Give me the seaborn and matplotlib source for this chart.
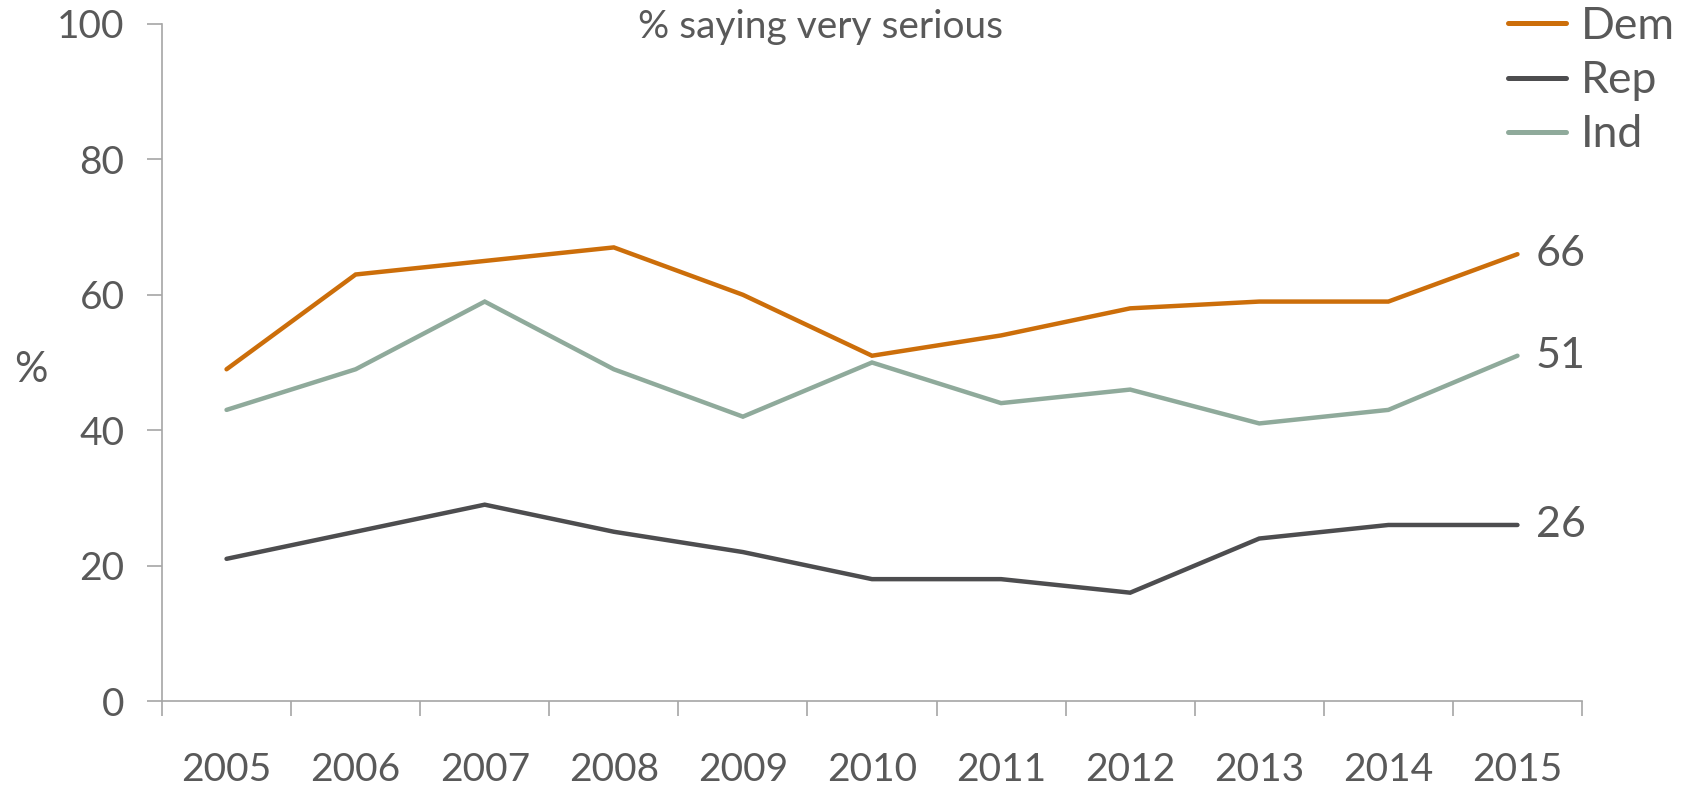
import matplotlib
matplotlib.use("Agg")
import pandas as pd
import matplotlib.pyplot as plt
import seaborn as sns
from matplotlib.lines import Line2D

# Data
years = [2005, 2006, 2007, 2008, 2009, 2010, 2011, 2012, 2013, 2014, 2015]
dem = [49, 63, 65, 67, 60, 51, 54, 58, 59, 59, 66]
rep = [21, 25, 29, 25, 22, 18, 18, 16, 24, 26, 26]
ind = [43, 49, 59, 49, 42, 50, 44, 46, 41, 43, 51]
parties = ["Dem", "Rep", "Ind"]
colors = {"Dem": "#CC6E0A", "Rep": "#4D4D4F", "Ind": "#8FAA9B"}
text_color = "#595959"

df = pd.DataFrame({
    "year": years * 3,
    "value": dem + rep + ind,
    "party": ["Dem"] * len(years) + ["Rep"] * len(years) + ["Ind"] * len(years),
})

sns.set_style("white")
plt.rcParams["font.family"] = ["Lato", "DejaVu Sans"]
plt.rcParams["xtick.bottom"] = True
plt.rcParams["ytick.left"] = True

fig = plt.figure(figsize=(16.92, 7.88), dpi=100)
ax = fig.add_axes([162 / 1692, 1 - 701 / 788, (1582 - 162) / 1692, (701 - 24) / 788])

sns.lineplot(data=df, x="year", y="value", hue="party", hue_order=parties,
             palette=colors, linewidth=3.2, legend=False, ax=ax,
             solid_capstyle="round", solid_joinstyle="miter")

ax.set_xlim(years[0] - 0.5, years[-1] + 0.5)
ax.set_ylim(0, 100)
ax.set_yticks([0, 20, 40, 60, 80, 100])
ax.set_xticks(years)
ax.set_xticklabels([str(y) for y in years])
ax.set_xticks([y - 0.5 for y in years] + [years[-1] + 0.5], minor=True)

for s in ["top", "right"]:
    ax.spines[s].set_visible(False)
for s in ["left", "bottom"]:
    ax.spines[s].set_color("#A6A6A6")
    ax.spines[s].set_linewidth(1.2)

ax.tick_params(axis="x", which="major", bottom=False, length=0, pad=37, labelsize=28,
               labelcolor=text_color)
ax.tick_params(axis="x", which="minor", bottom=True, length=11, width=1.2,
               color="#A6A6A6", direction="out")
ax.tick_params(axis="y", which="major", left=True, length=11, width=1.2, color="#A6A6A6",
               pad=16, labelsize=28, labelcolor=text_color, direction="out")
ax.set_xlabel("")
ax.set_ylabel("")

# end labels
for name, vals in zip(parties, [dem, rep, ind]):
    ax.annotate(str(vals[-1]), (years[-1], vals[-1]), xytext=(13, 0),
                textcoords="offset points", ha="left", va="center",
                fontsize=31, color=text_color)

fig.text(31 / 1692, 1 - 370 / 788, "%", fontsize=30, color=text_color,
         ha="center", va="center")
fig.text(820 / 1692, 1 - 27 / 788, "% saying very serious", fontsize=28,
         color=text_color, ha="center", va="center")

handles = [Line2D([0], [0], color=colors[p], linewidth=3.6, solid_capstyle="round") for p in parties]
leg = fig.legend(handles, parties, loc="upper left", bbox_to_anchor=(1490 / 1692, 1 + 12 / 788),
                 frameon=False, fontsize=32, handlelength=1.3, handletextpad=0.35,
                 labelspacing=0.3, borderaxespad=0)
for t in leg.get_texts():
    t.set_color(text_color)

fig.savefig("out.png", dpi=100)
